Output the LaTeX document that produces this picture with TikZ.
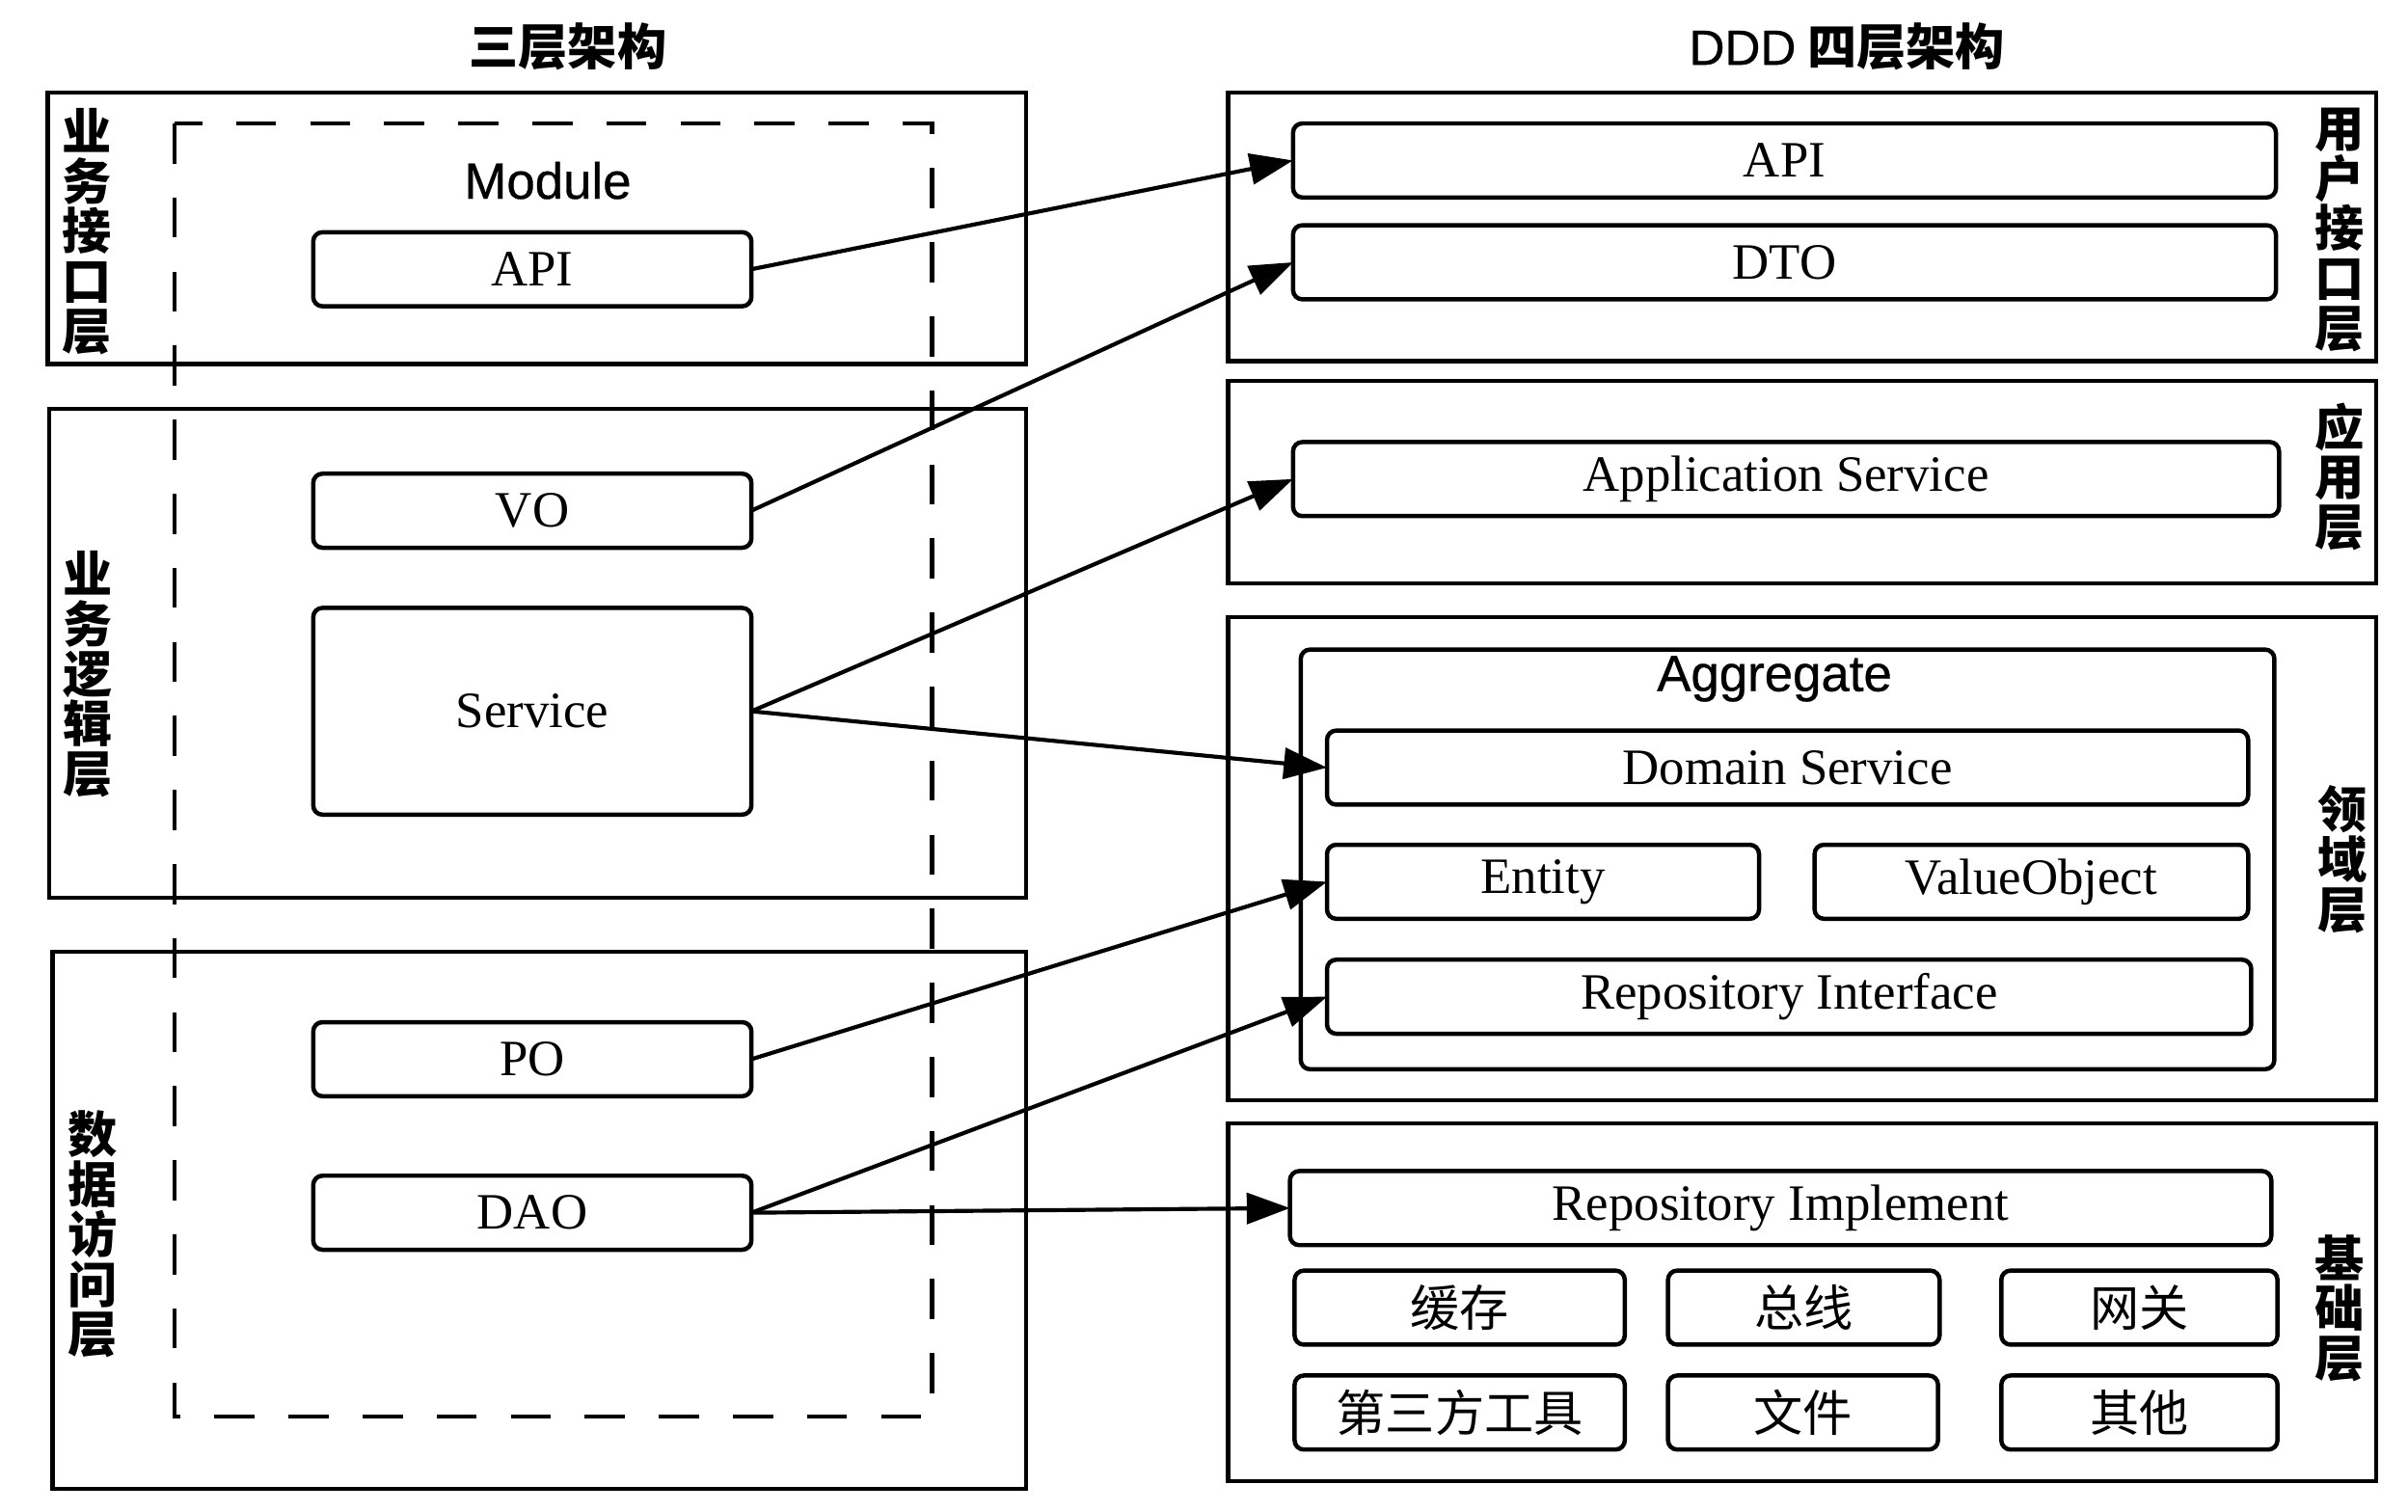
\documentclass[tikz,border=0pt]{standalone}
\usepackage{fontspec}
\setmainfont{Liberation Serif}
\setsansfont{Liberation Sans}
\newfontfamily\cjk{Noto Sans CJK SC}
\newfontfamily\medsans[FakeBold=0.6]{Liberation Sans}
\usepackage{tikz}
\usetikzlibrary{arrows.meta}

\begin{document}
\begin{tikzpicture}[x=0.5pt,y=-0.5pt,>={Triangle[length=14pt,width=10pt]},
    frame/.style={line width=1.4pt},
    blk/.style={draw,line width=1.4pt,rounded corners=3pt,inner sep=0pt,outer sep=0pt,
        minimum height=24pt,font=\fontsize{16.5}{18}\selectfont},
    zh/.style={font=\cjk\fontsize{16}{18}\selectfont},
    head/.style={inner sep=0pt,font=\cjk\bfseries\fontsize{16}{18}\selectfont},
    side/.style={align=center,inner sep=0pt,font=\cjk\bfseries\fontsize{16}{16.2}\selectfont},
    grouplabel/.style={inner sep=0pt,font=\medsans\fontsize{16.5}{18}\selectfont},
    link/.style={->,line width=1.3pt}]
    \useasboundingbox (0,0) rectangle (1560.6,979.4);

    \node[head] (title3) at (368,30) {三层架构};
    \node[head] (title4) at (1197,30) {{\mdseries\medsans DDD} 四层架构};

    \draw[frame] (31,60) rectangle (665,236);
    \draw[frame] (32,265) rectangle (665,582);
    \draw[frame] (34,617) rectangle (665,965);
    \draw[frame,dash pattern=on 13pt off 11pt] (113,80) rectangle (604,918);
    \node[side] (ui3) at (56,150) {业\\务\\接\\口\\层};
    \node[side] (bl3) at (57,437) {业\\务\\逻\\辑\\层};
    \node[side] (da3) at (60,800) {数\\据\\访\\问\\层};
    \node[grouplabel] (module) at (355,117) {Module};
    \node[blk,minimum width=142pt] (lapi) at (345,174.5) {API};
    \node[blk,minimum width=142pt] (vo) at (345,331) {VO};
    \node[blk,minimum width=142pt,minimum height=67pt] (svc) at (345,461) {Service};
    \node[blk,minimum width=142pt] (po) at (345,686.5) {PO};
    \node[blk,minimum width=142pt] (dao) at (345,786) {DAO};

    \draw[frame] (796,60) rectangle (1540,234);
    \draw[frame] (796,247) rectangle (1540,378);
    \draw[frame] (796,400) rectangle (1540,713);
    \draw[frame] (796,728) rectangle (1540,960);
    \draw[frame,rounded corners=3pt] (843,421) rectangle (1474,693);
    \node[side] (ui4) at (1516,149) {用\\户\\接\\口\\层};
    \node[side] (app4) at (1516,309) {应\\用\\层};
    \node[side] (dom4) at (1518,557) {领\\域\\层};
    \node[side] (inf4) at (1516,848) {基\\础\\层};
    \node[grouplabel] (aggr) at (1150,440) {Aggregate};

    \node[blk,minimum width=318.5pt] (rapi) at (1156.5,104) {API};
    \node[blk,minimum width=318.5pt] (dto) at (1156.5,170) {DTO};
    \node[blk,minimum width=319.5pt] (appsvc) at (1157.5,310.5) {Application Service};
    \node[blk,minimum width=298.5pt] (dsvc) at (1158.5,497.5) {Domain Service};
    \node[blk,minimum width=140pt] (entity) at (1000,571.5) {Entity};
    \node[blk,minimum width=140.5pt] (vobj) at (1316.5,571.5) {ValueObject};
    \node[blk,minimum width=299.5pt] (repoif) at (1159.5,646) {Repository Interface};
    \node[blk,minimum width=318pt] (repoimpl) at (1154,783) {Repository Implement};
    \node[blk,zh,minimum width=107pt] (cache) at (946,847.5) {缓存};
    \node[blk,zh,minimum width=88pt] (bus) at (1169,847.5) {总线};
    \node[blk,zh,minimum width=89.5pt] (gate) at (1386.5,847.5) {网关};
    \node[blk,zh,minimum width=107pt] (tools) at (946,915.5) {第三方工具};
    \node[blk,zh,minimum width=87.5pt] (file) at (1168.5,915.5) {文件};
    \node[blk,zh,minimum width=89.5pt] (other) at (1386.5,915.5) {其他};

    \draw[link] (lapi.east) -- (rapi.west);
    \draw[link] (vo.east) -- (dto.west);
    \draw[link] (svc.east) -- (appsvc.west);
    \draw[link] (svc.east) -- (dsvc.west);
    \draw[link] (po.east) -- (entity.west);
    \draw[link] (dao.east) -- (repoif.west);
    \draw[link] (dao.east) -- (repoimpl.west);
\end{tikzpicture}
\end{document}
